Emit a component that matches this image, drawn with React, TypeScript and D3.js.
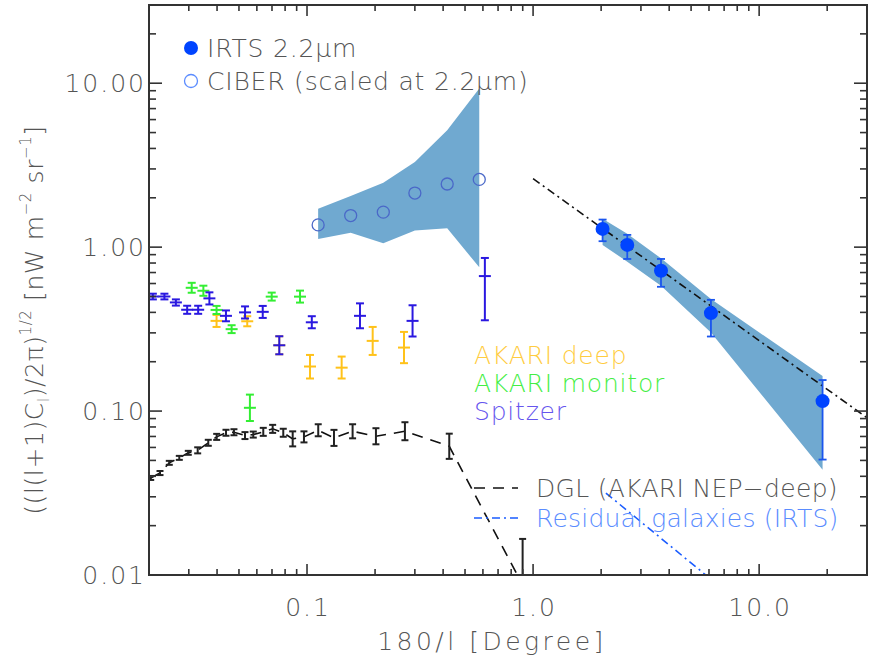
import * as d3 from 'd3';

// plot box inside the 872x666 picture
const W = 872
const H = 666
const box = { left: 149, right: 867, top: 5, bottom: 575 }

const font = '"DejaVu Sans", sans-serif'

// Spitzer
const spitzerX = [0.0208, 0.0234, 0.0263, 0.0295, 0.033, 0.037, 0.0438, 0.0532, 0.0637, 0.0754, 0.105, 0.1715, 0.293, 0.612]
const spitzerY = [0.5, 0.5, 0.46, 0.415, 0.415, 0.487, 0.381, 0.4, 0.403, 0.252, 0.348, 0.381, 0.355, 0.666]
const spitzerLo = [0.48, 0.48, 0.44, 0.392, 0.392, 0.447, 0.353, 0.367, 0.37, 0.222, 0.32, 0.32, 0.285, 0.358]
const spitzerHi = [0.52, 0.52, 0.48, 0.439, 0.439, 0.53, 0.411, 0.435, 0.438, 0.286, 0.379, 0.454, 0.442, 0.859]

// AKARI monitor
const monitorX = [0.0309, 0.0348, 0.0398, 0.0464, 0.0559, 0.0698, 0.0931]
const monitorY = [0.565, 0.542, 0.414, 0.316, 0.1047, 0.499, 0.499]
const monitorLo = [0.527, 0.505, 0.391, 0.299, 0.087, 0.472, 0.459]
const monitorHi = [0.606, 0.582, 0.438, 0.334, 0.126, 0.528, 0.543]

// AKARI deep
const deepX = [0.0398, 0.0544, 0.0754, 0.1031, 0.1423, 0.1952, 0.2685]
const deepY = [0.355, 0.353, 0.252, 0.187, 0.184, 0.268, 0.244]
const deepLo = [0.326, 0.329, 0.222, 0.158, 0.158, 0.22, 0.196]
const deepHi = [0.386, 0.379, 0.286, 0.22, 0.215, 0.326, 0.304]

// CIBER (scaled at 2.2um) and its band
const ciberX = [0.112, 0.156, 0.2175, 0.3, 0.417, 0.578]
const ciberY = [1.367, 1.559, 1.635, 2.138, 2.427, 2.589]
const ciberBandHi = [1.713, 2.048, 2.471, 3.308, 5.164, 9.294]
const ciberBandLo = [1.122, 1.222, 1.057, 1.262, 1.305, 0.753]

// IRTS 2.2um and its band
const irtsX = [2.03, 2.61, 3.68, 6.12, 19.08]
const irtsY = [1.292, 1.032, 0.718, 0.396, 0.115]
const irtsLo = [1.087, 0.847, 0.573, 0.285, 0.0506]
const irtsHi = [1.473, 1.188, 0.847, 0.477, 0.1546]
const irtsBandHi = [1.488, 1.205, 0.855, 0.482, 0.1636]
const irtsBandLo = [1.032, 0.815, 0.581, 0.3014, 0.0439]

// DGL (AKARI NEP-deep)
const dglX = [0.02035, 0.02237, 0.02459, 0.02723, 0.02984, 0.03284, 0.03658, 0.03985, 0.04381, 0.04751, 0.05316, 0.05785,
  0.06405, 0.07048, 0.07852, 0.08642, 0.09694, 0.1121, 0.1316, 0.1591, 0.2018, 0.2711, 0.4258, 0.899]
const dglY = [0.0391, 0.0419, 0.0483, 0.0518, 0.0556, 0.0576, 0.064, 0.0696, 0.0737, 0.0743, 0.0709, 0.0719,
  0.0747, 0.0779, 0.0737, 0.0677, 0.0696, 0.0764, 0.0686, 0.0753, 0.0702, 0.0753, 0.061, 0.0087]
const dglLo = [0.038, 0.0407, 0.047, 0.0504, 0.0541, 0.0552, 0.0614, 0.0667, 0.0707, 0.0712, 0.0675, 0.0689,
  0.0706, 0.0736, 0.0697, 0.0609, 0.0644, 0.0702, 0.0613, 0.0682, 0.0627, 0.0664, 0.0511, 0.005]
const dglHi = [0.0402, 0.0431, 0.0497, 0.0533, 0.0572, 0.0601, 0.0668, 0.0726, 0.0769, 0.0775, 0.0744, 0.075,
  0.079, 0.0824, 0.078, 0.0752, 0.0752, 0.0831, 0.0768, 0.0831, 0.0786, 0.0855, 0.0728, 0.0166]

// power-law lines
const fitX = [1.0, 30]
const fitY = [2.615, 0.091]
const residualX = [2.1, 6.5]
const residualY = [0.0316, 0.0088]

const yTickValues = [0.01, 0.1, 1, 10]
const yTickLabels = ['0.01', '0.10', '1.00', '10.00']
const xTickValues = [0.1, 1, 10]
const xTickLabels = ['0.1', '1.0', '10.0']

const ORANGE = '#ffc21a'
const GREEN = '#33ee33'
const VIOLET = '#2a18e0'
const BAND = '#70a9d0'
const IRTS = '#0044ff'
const AXIS = '#333'
const TEXT = '#555'

const x = d3.scaleLog().domain([0.02, 30]).range([box.left, box.right])
const y = d3.scaleLog().domain([0.01, 30]).range([box.bottom, box.top])

const line = d3.line<[number, number]>().x(d => x(d[0])).y(d => y(d[1]))

function zip(a: number[], b: number[]): [number, number][] {
  return a.map((v, i) => [v, b[i]])
}

function bandPath(xs: number[], lo: number[], hi: number[]) {
  const area = d3.area<number>()
    .x(i => x(xs[i]))
    .y0(i => y(lo[i]))
    .y1(i => y(hi[i]))
  return area(xs.map((_, i) => i)) as string
}

// error bar with caps, optional horizontal tick at the point
const ErrBars = ({ xs, ys, lo, hi, color, cap, mid, width }:
  { xs: number[], ys: number[], lo: number[], hi: number[], color: string, cap: number, mid: number, width: number }) => (
  <g stroke={color} strokeWidth={width} fill="none">
    {xs.map((v, i) => {
      const px = x(v)
      return (
        <g key={i}>
          <line x1={px} x2={px} y1={y(lo[i])} y2={y(hi[i])} />
          <line x1={px - cap} x2={px + cap} y1={y(lo[i])} y2={y(lo[i])} />
          <line x1={px - cap} x2={px + cap} y1={y(hi[i])} y2={y(hi[i])} />
          {mid > 0 && <line x1={px - mid} x2={px + mid} y1={y(ys[i])} y2={y(ys[i])} />}
        </g>
      )
    })}
  </g>
)

const Axes = () => {
  const xt = x.ticks()
  const yt = y.ticks()
  const isMajor = (v: number) => Math.abs(Math.log10(v) - Math.round(Math.log10(v))) < 1e-6
  return (
    <g stroke={AXIS} strokeWidth={1.6}>
      <rect x={box.left} y={box.top} width={box.right - box.left} height={box.bottom - box.top} fill="none" strokeWidth={2} />
      {xt.map((v, i) => {
        const len = isMajor(v) ? 11 : 6
        return (
          <g key={'x' + i}>
            <line x1={x(v)} x2={x(v)} y1={box.bottom} y2={box.bottom - len} />
            <line x1={x(v)} x2={x(v)} y1={box.top} y2={box.top + len} />
          </g>
        )
      })}
      {yt.map((v, i) => {
        const len = isMajor(v) ? 13 : 7
        return (
          <g key={'y' + i}>
            <line x1={box.left} x2={box.left + len} y1={y(v)} y2={y(v)} />
            <line x1={box.right} x2={box.right - len} y1={y(v)} y2={y(v)} />
          </g>
        )
      })}
    </g>
  )
}

const App = () => {
  return (
    <svg width={W} height={H} style={{ position: 'absolute', left: 0, top: 0, background: '#fff' }}
      fontFamily={font} fontWeight={200}>
      <defs>
        <clipPath id="plot">
          <rect x={box.left} y={box.top} width={box.right - box.left} height={box.bottom - box.top} />
        </clipPath>
      </defs>

      <g clipPath="url(#plot)">
        <path d={bandPath(ciberX, ciberBandLo, ciberBandHi)} fill={BAND} />
        <path d={bandPath(irtsX, irtsBandLo, irtsBandHi)} fill={BAND} />

        <path d={line(zip(dglX, dglY)) as string} fill="none" stroke="#111" strokeWidth={1.6} strokeDasharray="11,8" />
        <path d={line(zip(fitX, fitY)) as string} fill="none" stroke="#111" strokeWidth={1.6} strokeDasharray="8,4,2,4" />
        <path d={line(zip(residualX, residualY)) as string} fill="none" stroke="#1a5cff" strokeWidth={1.6} strokeDasharray="8,4,2,4" />

        <ErrBars xs={dglX} ys={dglY} lo={dglLo} hi={dglHi} color="#222" cap={3.5} mid={0} width={2} />
        <ErrBars xs={deepX} ys={deepY} lo={deepLo} hi={deepHi} color={ORANGE} cap={4} mid={6} width={2} />
        <ErrBars xs={monitorX} ys={monitorY} lo={monitorLo} hi={monitorHi} color={GREEN} cap={4} mid={6} width={2} />
        <ErrBars xs={spitzerX} ys={spitzerY} lo={spitzerLo} hi={spitzerHi} color={VIOLET} cap={4} mid={6} width={2} />

        {ciberX.map((v, i) => (
          <circle key={i} cx={x(v)} cy={y(ciberY[i])} r={6} fill="none" stroke="#4a68c8" strokeWidth={1.3} />
        ))}

        <ErrBars xs={irtsX} ys={irtsY} lo={irtsLo} hi={irtsHi} color="#1a55ee" cap={4} mid={0} width={1.8} />
        {irtsX.map((v, i) => (
          <circle key={i} cx={x(v)} cy={y(irtsY[i])} r={7} fill={IRTS} />
        ))}
      </g>

      <Axes />

      <g fontSize={25} fill={TEXT}>
        {yTickValues.map((v, i) => (
          <text key={i} x={146} y={y(v)} dy="0.36em" textAnchor="end" letterSpacing={2}>{yTickLabels[i]}</text>
        ))}
        {xTickValues.map((v, i) => (
          <text key={i} x={x(v) + 1} y={616} textAnchor="middle" letterSpacing={2}>{xTickLabels[i]}</text>
        ))}
        <text x={492} y={650} textAnchor="middle" letterSpacing={3.5}>180/l [Degree]</text>
        <text transform="translate(43,320) rotate(-90)" textAnchor="middle" letterSpacing={0.6}>
          <tspan>((l(l+1)C</tspan>
          <tspan fontSize={15} dy={6}>l</tspan>
          <tspan dy={-6}>)/2π)</tspan>
          <tspan fontSize={15} dy={-12}>1/2</tspan>
          <tspan dy={12}> [nW m</tspan>
          <tspan fontSize={15} dy={-12}>−2</tspan>
          <tspan dy={12}> sr</tspan>
          <tspan fontSize={15} dy={-12}>−1</tspan>
          <tspan dy={12}>]</tspan>
        </text>
      </g>

      {/* top-left legend */}
      <g fontSize={25} letterSpacing={0.8}>
        <circle cx={191} cy={48} r={7} fill={IRTS} />
        <text x={207} y={57} fill={TEXT}>IRTS 2.2μm</text>
        <circle cx={191} cy={81} r={6.5} fill="none" stroke="#5b8cff" strokeWidth={1.3} />
        <text x={207} y={90} fill={TEXT}>CIBER (scaled at 2.2μm)</text>

        {/* dataset labels */}
        <text x={474} y={364} fill="#ffcc40">AKARI deep</text>
        <text x={474} y={392} fill="#44ee44">AKARI monitor</text>
        <text x={474} y={420} fill="#6655ee">Spitzer</text>

        {/* line legend */}
        <line x1={474} x2={518} y1={488} y2={488} stroke="#111" strokeWidth={1.6} strokeDasharray="11,8" />
        <text x={536} y={497} fill={TEXT} letterSpacing={0.3}>DGL (AKARI NEP−deep)</text>
        <line x1={474} x2={518} y1={518} y2={518} stroke="#1a5cff" strokeWidth={1.6} strokeDasharray="8,4,2,4" />
        <text x={536} y={527} fill="#5a8cff" letterSpacing={0.2}>Residual galaxies (IRTS)</text>
      </g>
    </svg>
  )
}

export default App
